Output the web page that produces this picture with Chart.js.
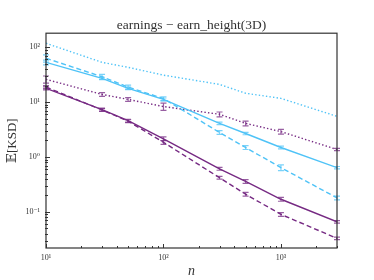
<!DOCTYPE html>
<html>
<head>
<meta charset="utf-8">
<script src="https://cdn.jsdelivr.net/npm/chart.js@4/dist/chart.umd.min.js"></script>
<style>
  html, body { margin: 0; padding: 0; background: #fff; }
  #wrap { width: 374px; height: 280px; }
</style>
</head>
<body>
<div id="wrap"><canvas id="ksdChart" width="374" height="280"></canvas></div>
<script>
/* ===== data ===== */
const sampleSizes = [10, 30, 50, 100, 300, 500, 1000, 3000];

const blueDotted   = [118, 53, 43, 31, 21, 14.5, 11.7, 5.5];
const blueDashed   = [63, 29, 18.8, 11.6, 2.8, 1.49, 0.64, 0.18];
const blueSolid    = [53, 27, 17.8, 11.2, 4.1, 2.68, 1.49, 0.64];
const purpleDotted = [26, 13.8, 11.2, 8.3, 6.0, 4.1, 2.9, 1.37];
const purpleSolid  = [17.8, 7.3, 4.6, 2.15, 0.61, 0.36, 0.17, 0.066];
const purpleDashed = [18.8, 7.2, 4.5, 1.85, 0.42, 0.21, 0.09, 0.033];

// relative half-width of the error bars
const blueDashedErr   = [0.15, 0.10, 0.08, 0.08, 0.08, 0.08, 0.12, 0.08];
const blueSolidErr    = [0.10, 0.05, 0.05, 0.06, 0.05, 0.05, 0.06, 0.05];
const purpleDottedErr = [0.15, 0.08, 0.08, 0.15, 0.10, 0.10, 0.10, 0.05];
const purpleSolidErr  = [0.06, 0.06, 0.06, 0.08, 0.06, 0.08, 0.08, 0.05];
const purpleDashedErr = [0.06, 0.06, 0.06, 0.08, 0.06, 0.08, 0.08, 0.05];

const xTickExp = { 10: "10¹", 100: "10²", 1000: "10³" };
const yTickExp = { 0.1: "10⁻¹", 1: "10⁰", 10: "10¹", 100: "10²" };

const BLUE = "#4fc3f7";
const PURPLE = "#762a83";
const SERIF = "'Liberation Serif', 'DejaVu Serif', serif";

function pts(vals) {
  return sampleSizes.map((n, i) => ({ x: n, y: vals[i] }));
}

function series(vals, color, dash, err) {
  return {
    data: pts(vals),
    borderColor: color,
    backgroundColor: color,
    borderWidth: 1.4,
    borderDash: dash,
    pointRadius: 0,
    tension: 0,
    errRel: err
  };
}

/* ===== error bars + frame + inward ticks ===== */
const decorPlugin = {
  id: "decor",
  afterDatasetsDraw(chart) {
    const ctx = chart.ctx;
    const xs = chart.scales.x, ys = chart.scales.y;
    const area = chart.chartArea;

    ctx.save();
    ctx.beginPath();
    ctx.rect(area.left - 4, area.top, area.right - area.left + 8, area.bottom - area.top);
    ctx.clip();
    chart.data.datasets.forEach(ds => {
      if (!ds.errRel) return;
      ctx.strokeStyle = ds.borderColor;
      ctx.globalAlpha = 0.75;
      ctx.lineWidth = 1.2;
      ctx.setLineDash([]);
      ds.data.forEach((p, i) => {
        const e = ds.errRel[i];
        const x = xs.getPixelForValue(p.x);
        const y1 = ys.getPixelForValue(p.y * (1 - e));
        const y2 = ys.getPixelForValue(p.y * (1 + e));
        ctx.beginPath();
        ctx.moveTo(x, y1); ctx.lineTo(x, y2);
        ctx.moveTo(x - 3, y1); ctx.lineTo(x + 3, y1);
        ctx.moveTo(x - 3, y2); ctx.lineTo(x + 3, y2);
        ctx.stroke();
      });
    });
    ctx.restore();

    ctx.save();
    ctx.strokeStyle = "#333";
    ctx.lineWidth = 1;
    ctx.setLineDash([]);
    // inward ticks
    const isDecade = v => Math.abs(Math.log10(v) - Math.round(Math.log10(v))) < 1e-6;
    const isNice = v => {
      const m = v / Math.pow(10, Math.floor(Math.log10(v) + 1e-9));
      return Math.abs(m - Math.round(m)) < 1e-6;
    };
    xs.ticks.forEach(t => {
      if (!isNice(t.value)) return;
      const x = Math.round(xs.getPixelForValue(t.value)) + 0.5;
      const len = isDecade(t.value) ? 4 : 2;
      ctx.beginPath();
      ctx.moveTo(x, area.bottom); ctx.lineTo(x, area.bottom - len);
      ctx.stroke();
    });
    ys.ticks.forEach(t => {
      if (!isNice(t.value)) return;
      const y = Math.round(ys.getPixelForValue(t.value)) + 0.5;
      const len = isDecade(t.value) ? 4 : 2;
      ctx.beginPath();
      ctx.moveTo(area.left - 1, y); ctx.lineTo(area.left + len, y);
      ctx.stroke();
    });
    // frame
    ctx.lineWidth = 1.2;
    ctx.strokeRect(area.left, area.top, area.right - area.left, area.bottom - area.top);
    ctx.restore();
  }
};

/* ===== chart ===== */
const ctx = document.getElementById("ksdChart").getContext("2d");

new Chart(ctx, {
  type: "line",
  data: {
    datasets: [
      series(blueDotted, BLUE, [1.4, 2.2], null),
      series(blueDashed, BLUE, [5, 3], blueDashedErr),
      series(blueSolid, BLUE, [], blueSolidErr),
      series(purpleDotted, PURPLE, [1.4, 2.2], purpleDottedErr),
      series(purpleSolid, PURPLE, [], purpleSolidErr),
      series(purpleDashed, PURPLE, [5, 3], purpleDashedErr)
    ]
  },
  options: {
    responsive: false,
    animation: false,
    devicePixelRatio: 1,
    layout: { padding: { left: 0, right: 37, top: 0, bottom: 0 } },
    plugins: {
      legend: { display: false },
      tooltip: { enabled: false },
      title: {
        display: true,
        fullSize: false,
        text: "earnings − earn_height(3D)",
        color: "#333",
        font: { family: SERIF, size: 13.5, weight: "normal" },
        padding: { top: 17, bottom: 0 }
      }
    },
    scales: {
      x: {
        type: "logarithmic",
        min: 10,
        max: 3000,
        afterFit: s => { s.height = 32; },
        grid: { display: false, drawTicks: false },
        border: { display: false },
        ticks: {
          autoSkip: false,
          maxRotation: 0,
          padding: 5,
          color: "#333",
          font: { family: SERIF, size: 8 },
          callback: v => xTickExp[v] || ""
        },
        title: {
          display: true,
          text: "n",
          color: "#333",
          font: { family: SERIF, size: 14, style: "italic" },
          padding: { top: 0, bottom: 0 }
        }
      },
      y: {
        type: "logarithmic",
        min: 0.022,
        max: 180,
        afterFit: s => { s.width = 46; },
        grid: { display: false, drawTicks: false },
        border: { display: false },
        ticks: {
          autoSkip: false,
          padding: 6,
          color: "#333",
          font: { family: SERIF, size: 8 },
          callback: v => {
            const k = Object.keys(yTickExp).find(key => Math.abs(parseFloat(key) - v) < 1e-9 * Math.max(1, v));
            return k ? yTickExp[k] : "";
          }
        },
        title: {
          display: true,
          text: "𝔼[KSD]",
          color: "#333",
          font: { family: SERIF, size: 13 },
          padding: { top: 5, bottom: 0 }
        }
      }
    }
  },
  plugins: [decorPlugin]
});
</script>
</body>
</html>
